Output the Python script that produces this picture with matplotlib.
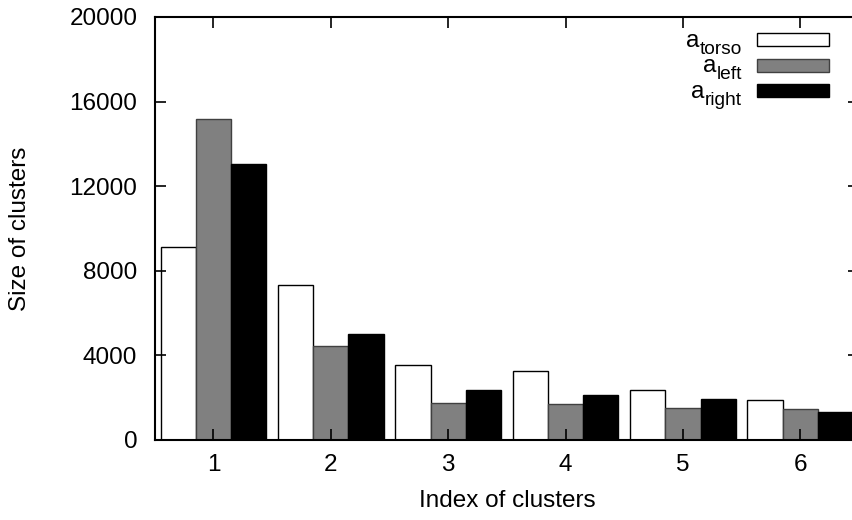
import numpy as np
import matplotlib
matplotlib.use("Agg")
import matplotlib.pyplot as plt
from matplotlib.patches import Rectangle

plt.rcParams["font.family"] = ["Liberation Sans", "DejaVu Sans"]

clusters = [1, 2, 3, 4, 5, 6]
a_torso = [9140, 7330, 3550, 3280, 2350, 1890]
a_left = [15160, 4460, 1770, 1690, 1500, 1480]
a_right = [13060, 5030, 2360, 2110, 1940, 1310]
series_subs = ["torso", "left", "right"]

W, H = 853, 520
fig = plt.figure(figsize=(W / 100, H / 100), dpi=100)
# right border sits just past the edge of the canvas
ax = fig.add_axes([154.7 / W, 80 / H, 704.3 / W, 423 / H])

x = np.array(clusters)
w = 0.3
styles = [("white", "black"), ("#808080", "#404040"), ("black", "black")]
for k, (vals, (fc, ec)) in enumerate(zip([a_torso, a_left, a_right], styles)):
    ax.bar(x + (k - 1) * w, vals, w, color=fc, edgecolor=ec, linewidth=1.0)

ax.set_xlim(0.5, 6.5)
ax.set_ylim(0, 20000)
ax.set_xticks(clusters)
ax.set_yticks(range(0, 20001, 4000))
ax.tick_params(direction="in", length=8, width=1.2, top=True, right=True,
               labelsize=17.5)
ax.tick_params(axis="y", pad=12.5)
ax.tick_params(axis="x", pad=10)
for s in ax.spines.values():
    s.set_linewidth(1.5)

ax.set_xlabel("Index of clusters", fontsize=17.5, va="top")
ax.xaxis.set_label_coords(0.5, -0.118)
ax.set_ylabel("Size of clusters", fontsize=17.5)
ax.yaxis.set_label_coords(-0.1756, 0.5)

# gnuplot-style key: label on the left, swatch on the right
renderer = fig.canvas.get_renderer()
for i, (sub, (fc, ec)) in enumerate(zip(series_subs, styles)):
    base = H - (46.7 + 25.5 * i)
    fig.patches.append(Rectangle((756.7 / W, (base + 0.5) / H), 72 / W, 13 / H,
                                 transform=fig.transFigure, facecolor=fc,
                                 edgecolor=ec, linewidth=1.0))
    t = fig.text(741.7 / W, (base - 7) / H, sub, ha="right", va="baseline", fontsize=13.8)
    x0 = t.get_window_extent(renderer).x0
    fig.text(x0 / W, base / H, "a", ha="right", va="baseline", fontsize=17.5)

fig.savefig("out.png", dpi=100)
